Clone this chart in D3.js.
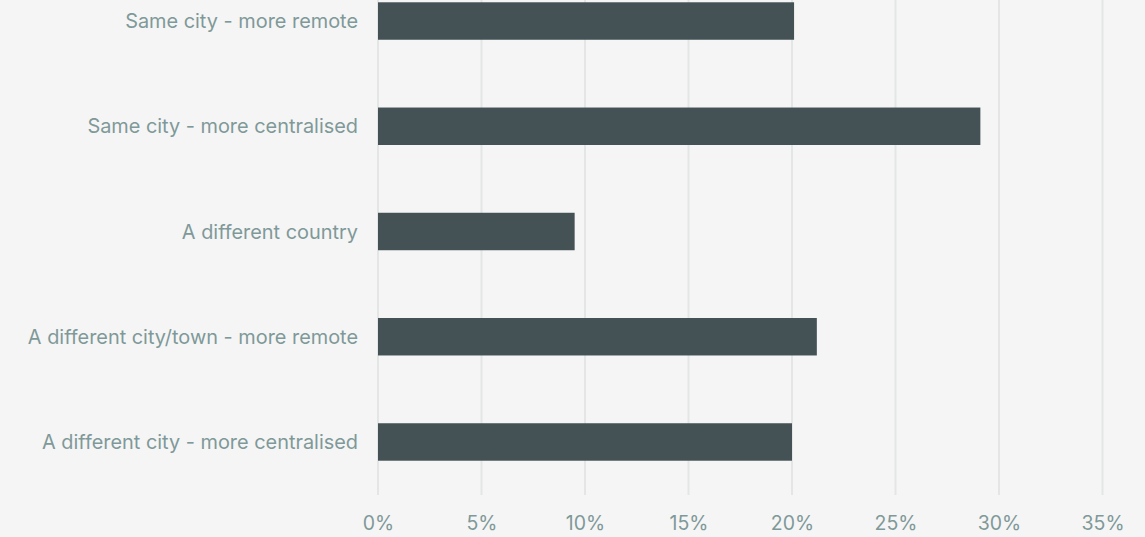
<!DOCTYPE html>
<html>
<head>
<meta charset="utf-8">
<script src="https://cdn.jsdelivr.net/npm/d3@7"></script>
<style>
  html, body { margin: 0; padding: 0; background: #f5f5f5; }
  svg { display: block; }
  text { font-family: Inter, Roboto, "Noto Sans", sans-serif; }
</style>
</head>
<body>
<svg id="chart" width="1145" height="537"></svg>
<script>
// Destination of relocation, share of respondents (%)
const categories = [
  "Same city - more remote",
  "Same city - more centralised",
  "A different country",
  "A different city/town - more remote",
  "A different city - more centralised"
];
const values = [20.1, 29.1, 9.5, 21.2, 20.0];
const tickValues = [0, 5, 10, 15, 20, 25, 30, 35];

const svg = d3.select("#chart");
const W = 1145, H = 537;
const font = "Inter, Roboto, 'Noto Sans', sans-serif";

const x = d3.scaleLinear().domain([0, 35]).range([378, 1102.5]);
const y = d3.scaleBand()
  .domain(categories)
  .range([-31.6, 494.6])
  .paddingInner(0.644)
  .paddingOuter(0.322);

svg.append("rect").attr("width", W).attr("height", H).attr("fill", "#f5f5f5");

// vertical gridlines
svg.append("g")
  .selectAll("line")
  .data(tickValues)
  .join("line")
  .attr("x1", d => x(d)).attr("x2", d => x(d))
  .attr("y1", 0).attr("y2", 495)
  .attr("stroke", "#e3e6e5")
  .attr("stroke-width", 2);

// bars
svg.append("g")
  .selectAll("rect")
  .data(categories)
  .join("rect")
  .attr("x", x(0))
  .attr("y", c => y(c))
  .attr("width", (c, i) => x(values[i]) - x(0))
  .attr("height", y.bandwidth())
  .attr("fill", "#445256");

// category labels
svg.append("g")
  .selectAll("text")
  .data(categories)
  .join("text")
  .attr("x", 358)
  .attr("y", c => y(c) + y.bandwidth() / 2)
  .attr("dy", "0.36em")
  .attr("text-anchor", "end")
  .attr("font-size", 19.9)
  .attr("font-family", font)
  .attr("fill", "#7f9999")
  .text(c => c);

// x axis tick labels
const xAxis = d3.axisBottom(x)
  .tickValues(tickValues)
  .tickFormat(d => d + "%")
  .tickSize(0)
  .tickPadding(0);

const gx = svg.append("g").attr("transform", "translate(0,516)").call(xAxis);
gx.select(".domain").remove();
gx.selectAll("text")
  .attr("font-size", 19.5)
  .attr("font-family", font)
  .attr("fill", "#7f9999");
</script>
</body>
</html>
